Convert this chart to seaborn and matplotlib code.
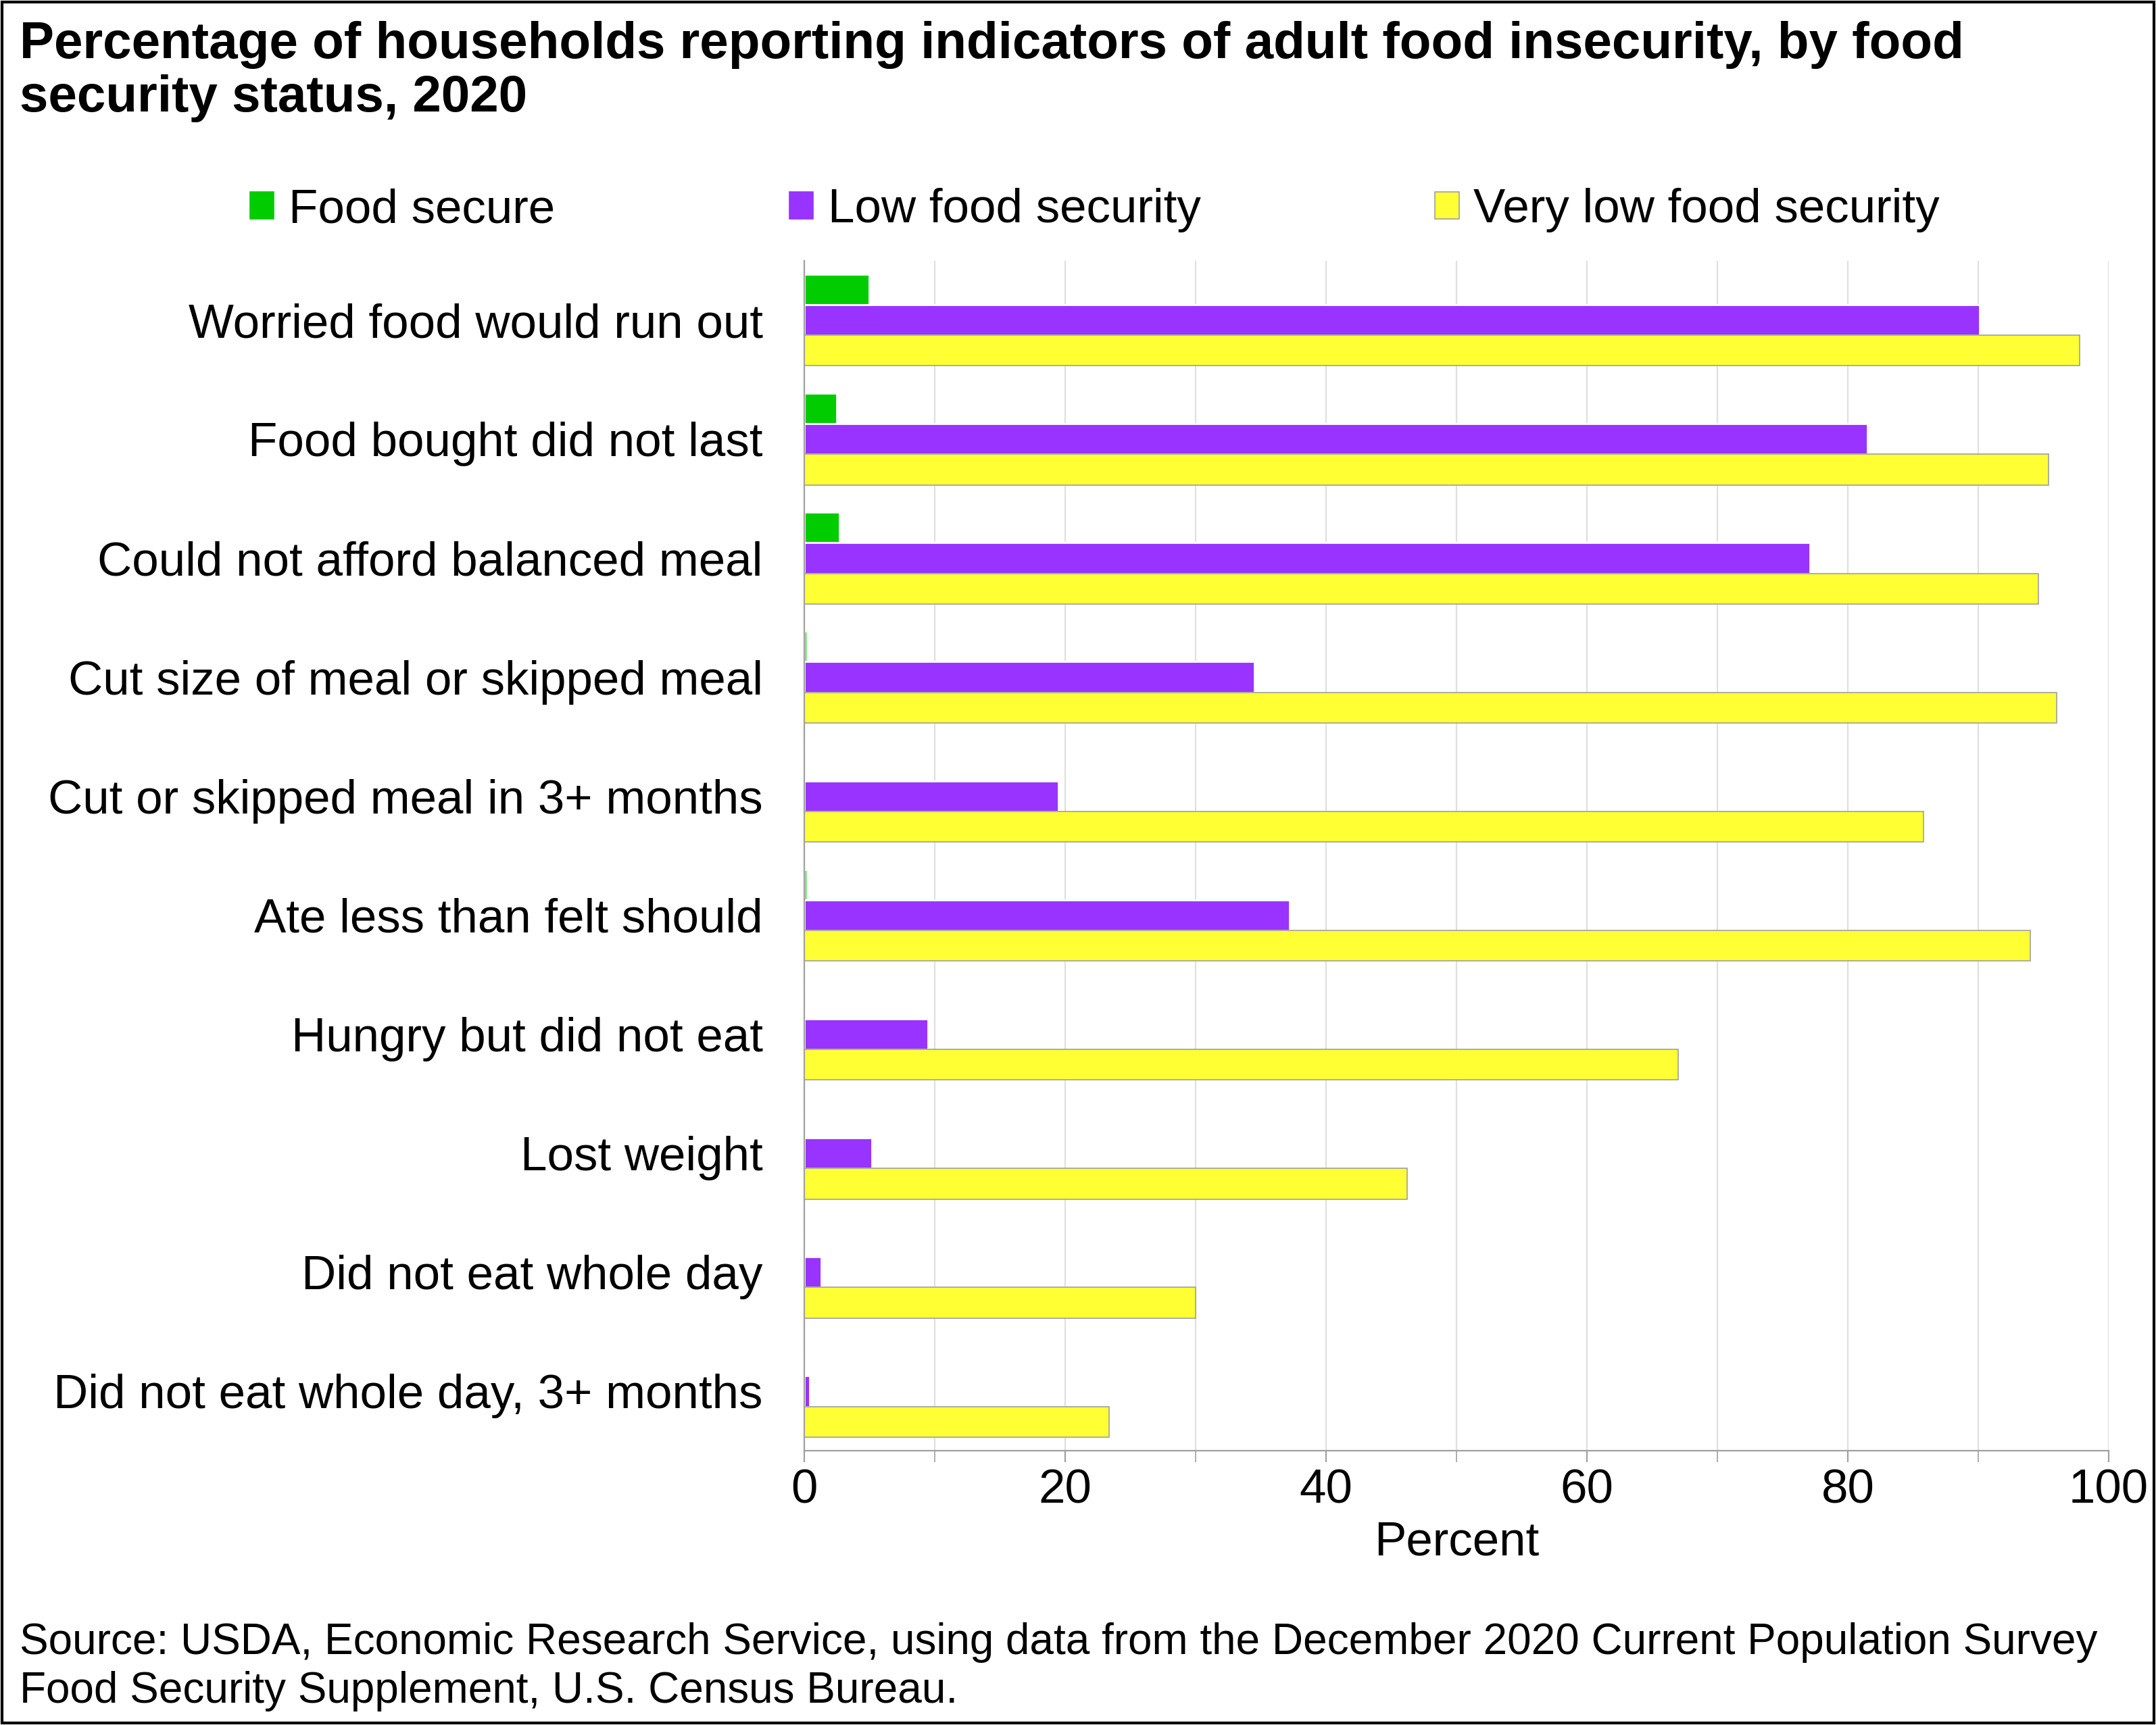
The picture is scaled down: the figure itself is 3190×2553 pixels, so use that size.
import matplotlib
matplotlib.use("Agg")
import matplotlib.pyplot as plt
import seaborn as sns
import pandas as pd
from matplotlib.patches import Rectangle

categories = ["Worried food would run out", "Food bought did not last", "Could not afford balanced meal",
              "Cut size of meal or skipped meal", "Cut or skipped meal in 3+ months", "Ate less than felt should",
              "Hungry but did not eat", "Lost weight", "Did not eat whole day", "Did not eat whole day, 3+ months"]
food_secure = [5.0, 2.5, 2.7, 0.2, 0.0, 0.2, 0.0, 0.0, 0.0, 0.0]
low_fs = [90.1, 81.5, 77.1, 34.5, 19.5, 37.2, 9.5, 5.2, 1.3, 0.4]
very_low_fs = [97.8, 95.4, 94.6, 96.0, 85.8, 94.0, 67.0, 46.2, 30.0, 23.4]
series = ["Food secure", "Low food security", "Very low food security"]
colors = ["#00cc00", "#9933ff", "#ffff33"]

rows = []
for i, c in enumerate(categories):
    for s, vals in zip(series, [food_secure, low_fs, very_low_fs]):
        rows.append({"cat": c, "series": s, "val": vals[i]})
df = pd.DataFrame(rows)

sns.set_style("white")
plt.rcParams["font.family"] = ["Liberation Sans", "DejaVu Sans"]
plt.rcParams["text.color"] = "black"
plt.rcParams["axes.labelcolor"] = "black"
plt.rcParams["xtick.color"] = "black"
plt.rcParams["ytick.color"] = "black"

fig = plt.figure(figsize=(15.95, 12.765), dpi=200)
ax = fig.add_axes([0.373, 0.159, 0.605, 0.69])
sns.barplot(data=df, y="cat", x="val", hue="series", palette=colors, width=0.77,
            orient="h", ax=ax, legend=False, saturation=1)
for p in ax.patches:
    if p.get_facecolor()[2] < 0.5 and p.get_facecolor()[0] > 0.9:
        p.set_edgecolor("#a0a0a0"); p.set_linewidth(0.6)
ax.set_xlim(0, 100)
ax.set_xticks(range(0, 101, 20))
ax.set_xticks(range(0, 101, 10), minor=True)
ax.grid(axis="x", which="both", color="#e0e0e0", linewidth=0.8)
ax.set_axisbelow(True)
for s in ["top", "right"]:
    ax.spines[s].set_visible(False)
ax.spines["left"].set_color("#a0a0a0")
ax.spines["bottom"].set_color("#a0a0a0")
ax.tick_params(axis="x", which="both", bottom=True, length=6, color="#a0a0a0", labelsize=25.5)
ax.tick_params(axis="y", length=0, labelsize=25.5, pad=22)
ax.set_ylabel("")
ax.set_xlabel("Percent", fontsize=25.5, labelpad=4)

handles = [Rectangle((0, 0), 1, 1, facecolor=c, edgecolor="#a0a0a0" if i == 2 else c, linewidth=0.6)
           for i, c in enumerate(colors)]
fig.legend(handles, series, loc="upper left", bbox_to_anchor=(0.096, 0.916), ncol=3, frameon=False,
           fontsize=25.5, handlelength=0.5, handleheight=0.5, handletextpad=0.3, columnspacing=4.9)

fig.text(0.009, 0.988, "Percentage of households reporting indicators of adult food insecurity, by food\nsecurity status, 2020",
         fontsize=27.5, fontweight="bold", va="top", ha="left", linespacing=1.15)
fig.text(0.009, 0.008, "Source: USDA, Economic Research Service, using data from the December 2020 Current Population Survey\nFood Security Supplement, U.S. Census Bureau.",
         fontsize=23, va="bottom", ha="left", linespacing=1.25)
fig.patches.append(Rectangle((0.001, 0.001), 0.998, 0.998, transform=fig.transFigure, fill=False,
                             edgecolor="black", linewidth=1.5))
fig.savefig("out.png", dpi=200)
